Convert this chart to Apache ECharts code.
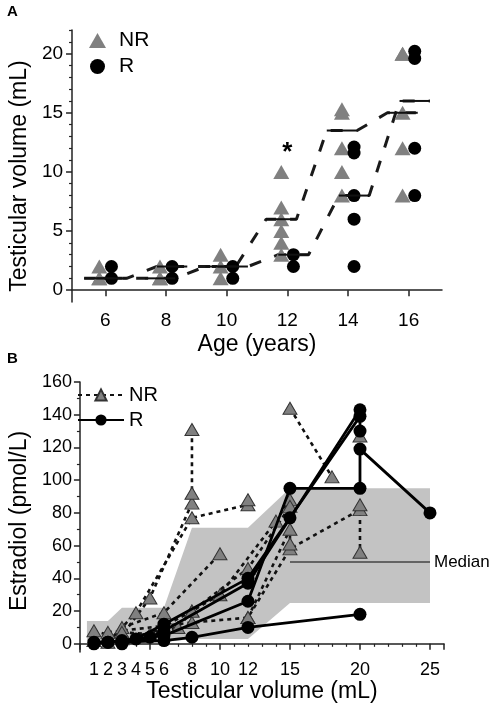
<!DOCTYPE html>
<html><head><meta charset="utf-8">
<script src="https://cdn.jsdelivr.net/npm/echarts@6/dist/echarts.min.js"></script>
<style>html,body{margin:0;padding:0;background:#fff}#c{width:493px;height:708px}</style>
</head><body><div id="c"></div>
<script>
// ---------- Panel A data ----------
const agesA = [6, 8, 10, 12, 14, 16];
const nrVolumesByAge = [[1, 1, 2], [1, 1, 2], [1, 2, 3], [3, 4, 5, 6, 7, 10], [8, 10, 12, 15, 15.3], [8, 12, 15, 20, 20]];
const rVolumesByAge = [[1, 2], [1, 2], [1, 2], [2, 3], [2, 6, 8, 11.6, 12.1], [8, 12, 19.6, 20.2]];
const nrMedians = [1, 1, 2, 6, 13.5, 15];
const rMedians = [1, 2, 2, 3, 8, 16];
const ageTickValues = [6, 8, 10, 12, 14, 16];
const volTickValuesA = [0, 5, 10, 15, 20];
const volMinorTicksA = [1, 2, 3, 4, 6, 7, 8, 9, 11, 12, 13, 14, 16, 17, 18, 19, 21, 22];
const significance = [[12.0, 11.6]];

// ---------- Panel B data ----------
const volTickValuesB = [1, 2, 3, 4, 5, 6, 8, 10, 12, 15, 20, 25];
const e2TickValues = [0, 20, 40, 60, 80, 100, 120, 140, 160];
const e2MinorTicks = [10, 30, 50, 70, 90, 110, 130, 150];
const bandVolumes = [0.5, 2, 3, 6, 8, 12, 15, 25];
const bandUpper = [14, 14, 22, 22, 71, 71, 95, 95];
const bandLower = [0, 0, 0.5, 1, 3, 3, 25, 25];
const medianLine = [[15, 50], [25, 50]];
const nrPatients = [
  [[1, 2], [3, 5], [5, 28], [8, 86], [8, 92], [8, 131]],
  [[2, 1], [4, 19], [8, 77], [12, 85], [12, 88]],
  [[3, 10], [6, 19], [10, 55]],
  [[1, 8], [3, 3], [7, 10], [8, 20], [10, 30], [14, 75], [15, 88]],
  [[2, 7], [8, 13], [12, 16], [15, 58], [20, 82], [20, 56]],
  [[3, 7], [5, 6], [8, 20], [12, 46], [15, 84]],
  [[12, 16], [15, 70], [15, 61]],
  [[15, 144], [18, 102]],
  [[20, 127]],
  [[20, 85]]
];
const rPatients = [
  [[1, 1], [2, 1], [3, 1], [6, 2], [8, 4], [12, 10], [20, 18]],
  [[2, 1], [4, 3], [6, 12], [12, 40], [15, 77], [20, 139], [20, 130]],
  [[3, 0], [5, 4], [6, 8], [12, 37], [20, 143]],
  [[1, 0], [3, 2], [6, 5], [12, 26], [15, 95], [20, 95], [20, 119], [25, 80]]
];

// ---------- layout / style constants ----------
const OFF = 0.2, HALF = 0.5;
const FONT = 'Liberation Sans, Arial, sans-serif';
const GRAY = '#808080';
const AXIS = {lineStyle: {color: '#222', width: 1.5}};

const chart = echarts.init(document.getElementById('c'), null, {renderer: 'canvas'});

function scatterPoints(byAge, sign) {
  const out = [];
  agesA.forEach((a, i) => byAge[i].forEach(v => out.push([a + sign * OFF, v])));
  return out;
}
function medianPath(meds, sign) {
  const out = [];
  agesA.forEach((a, i) => { out.push([a + sign * OFF - HALF, meds[i]]); out.push([a + sign * OFF + HALF, meds[i]]); });
  return out;
}
function medianCenters(meds, sign) { return agesA.map((a, i) => [a + sign * OFF, meds[i]]); }
function medianSeg(params, api) {
  const x = api.value(0), y = api.value(1);
  const p1 = api.coord([x - HALF, y]), p2 = api.coord([x + HALF, y]);
  return {type: 'line', shape: {x1: p1[0], y1: p1[1], x2: p2[0], y2: p2[1]}, style: {stroke: '#111', lineWidth: 2}};
}

const series = [];
// Panel A
['NR', 'R'].forEach((g, gi) => {
  const sign = gi === 0 ? -1 : 1;
  const meds = gi === 0 ? nrMedians : rMedians;
  series.push({type: 'line', name: g + '_path', xAxisIndex: 0, yAxisIndex: 0, data: medianPath(meds, sign),
    symbol: 'none', lineStyle: {color: '#1a1a1a', width: 3, type: [12, 14]}, z: 2, silent: true});
});
series.push({type: 'scatter', name: 'NR', xAxisIndex: 0, yAxisIndex: 0, data: scatterPoints(nrVolumesByAge, -1),
  symbol: 'triangle', symbolSize: [16, 14], itemStyle: {color: GRAY, opacity: 1}, z: 3});
series.push({type: 'scatter', name: 'R', xAxisIndex: 0, yAxisIndex: 0, data: scatterPoints(rVolumesByAge, 1),
  symbol: 'circle', symbolSize: 13, itemStyle: {color: '#000', opacity: 1}, z: 3});
[[nrMedians, -1], [rMedians, 1]].forEach(([m, s]) => series.push({type: 'custom', xAxisIndex: 0, yAxisIndex: 0,
  data: medianCenters(m, s), renderItem: medianSeg, z: 4, silent: true}));
series.push({type: 'custom', xAxisIndex: 0, yAxisIndex: 0, data: significance, silent: true, z: 5,
  renderItem: (params, api) => {
    const p = api.coord([api.value(0), api.value(1)]);
    return {type: 'text', x: p[0], y: p[1], style: {text: '*', fontSize: 26, fontWeight: 'bold', fill: '#000',
      fontFamily: FONT, align: 'center', verticalAlign: 'middle'}};
  }});

// Panel B
series.push({type: 'custom', xAxisIndex: 1, yAxisIndex: 2, data: [0], silent: true, z: 1,
  renderItem: (params, api) => {
    const pts = [];
    bandVolumes.forEach((v, i) => pts.push(api.coord([v, bandUpper[i]])));
    for (let i = bandVolumes.length - 1; i >= 0; i--) pts.push(api.coord([bandVolumes[i], bandLower[i]]));
    return {type: 'polygon', shape: {points: pts}, style: {fill: '#c3c3c3'}};
  }});
series.push({type: 'line', xAxisIndex: 1, yAxisIndex: 2, data: medianLine, symbol: 'none', silent: true, z: 2,
  lineStyle: {color: '#444', width: 1.5},
  endLabel: {show: true, formatter: 'Median', fontSize: 17, color: '#000', fontFamily: FONT, distance: 4}});
nrPatients.forEach(p => series.push({type: 'line', name: 'NR_B', xAxisIndex: 1, yAxisIndex: 2, data: p, z: 3,
  symbol: 'triangle', symbolSize: [14, 12], itemStyle: {color: GRAY, borderColor: '#333', borderWidth: 1},
  lineStyle: {color: '#111', width: 2.6, type: [4, 4]}}));
rPatients.forEach(p => series.push({type: 'line', name: 'R_B', xAxisIndex: 1, yAxisIndex: 2, data: p, z: 4,
  symbol: 'circle', symbolSize: 13, itemStyle: {color: '#000'},
  lineStyle: {color: '#000', width: 2.8}}));

const labelStyle = {fontSize: 19, color: '#000', fontFamily: FONT};
const nameStyle = {fontSize: 23, color: '#000', fontFamily: FONT};

chart.setOption({
  animation: false,
  backgroundColor: '#fff',
  textStyle: {fontFamily: FONT},
  grid: [
    {left: 68, top: 30, width: 374, height: 272},
    {left: 70, top: 382, width: 374, height: 270}
  ],
  xAxis: [
    {type: 'value', gridIndex: 0, min: 4.9, max: 17.1, axisLine: AXIS, splitLine: {show: false},
      axisTick: {show: true, length: 6, inside: false, customValues: ageTickValues, lineStyle: {color: '#222', width: 1.5}},
      axisLabel: {customValues: ageTickValues, margin: 9, ...labelStyle},
      name: 'Age (years)', nameLocation: 'middle', nameGap: 31, nameTextStyle: nameStyle},
    {type: 'value', gridIndex: 1, min: 0, max: 26, interval: 5, axisLine: AXIS, splitLine: {show: false},
      axisTick: {show: true, length: 6, lineStyle: {color: '#222', width: 1.5}},
      minorTick: {show: true, splitNumber: 5, length: 3, lineStyle: {color: '#222', width: 1.2}},
      axisLabel: {customValues: volTickValuesB, margin: 9, ...labelStyle, fontSize: 18},
      name: 'Testicular volume (mL)', nameLocation: 'middle', nameGap: 22, nameTextStyle: nameStyle}
  ],
  yAxis: [
    {type: 'value', gridIndex: 0, min: -1, max: 22, position: 'left', axisLine: AXIS, splitLine: {show: false},
      axisTick: {show: true, length: 6, customValues: volTickValuesA, lineStyle: {color: '#222', width: 1.5}},
      axisLabel: {customValues: volTickValuesA, margin: 9, ...labelStyle},
      name: 'Testicular volume (mL)', nameLocation: 'middle', nameGap: 40,
      nameTextStyle: {...nameStyle, padding: [0, 20, 0, 0]}},
    {type: 'value', gridIndex: 0, min: -1, max: 22, position: 'left', axisLine: {show: false}, splitLine: {show: false},
      axisTick: {show: true, length: 3, customValues: volMinorTicksA, lineStyle: {color: '#222', width: 1.2}},
      axisLabel: {show: false}},
    {type: 'value', gridIndex: 1, min: -5, max: 160, position: 'left', axisLine: AXIS, splitLine: {show: false},
      axisTick: {show: true, length: 6, customValues: e2TickValues, lineStyle: {color: '#222', width: 1.5}},
      axisLabel: {customValues: e2TickValues, margin: 8, ...labelStyle, fontSize: 18},
      name: 'Estradiol (pmol/L)', nameLocation: 'middle', nameGap: 48,
      nameTextStyle: {...nameStyle, padding: [0, 8, 0, 0]}},
    {type: 'value', gridIndex: 1, min: -5, max: 160, position: 'left', axisLine: {show: false}, splitLine: {show: false},
      axisTick: {show: true, length: 3, customValues: e2MinorTicks, lineStyle: {color: '#222', width: 1.2}},
      axisLabel: {show: false}}
  ],
  legend: [
    {data: ['NR', 'R'], orient: 'vertical', left: 84, top: 25, itemWidth: 17, itemHeight: 15, itemGap: 5,
      textStyle: {fontSize: 21, color: '#000', fontFamily: FONT, padding: [0, 0, 0, 8]}, selectedMode: false},
    {data: ['NR_B', 'R_B'], orient: 'vertical', left: 72, top: 380, itemWidth: 46, itemHeight: 14, itemGap: 5,
      formatter: n => n.replace('_B', ''),
      textStyle: {fontSize: 20, color: '#000', fontFamily: FONT}, selectedMode: false}
  ],
  graphic: [
    {type: 'text', left: 7, top: 4, style: {text: 'A', fontSize: 15, fontWeight: 'bold', fill: '#000', fontFamily: FONT}},
    {type: 'text', left: 7, top: 351, style: {text: 'B', fontSize: 15, fontWeight: 'bold', fill: '#000', fontFamily: FONT}}
  ],
  series: series
});
</script></body></html>
